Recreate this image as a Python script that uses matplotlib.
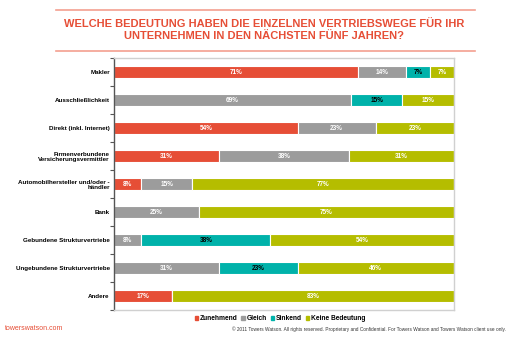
import numpy as np
import matplotlib.pyplot as plt
from matplotlib.lines import Line2D

plt.rcParams['font.family'] = ['Liberation Sans', 'DejaVu Sans']

categories = ['Makler', 'Ausschließlichkeit', 'Direkt (inkl. Internet)',
              'Firmenverbundene\nVersicherungsvermittler',
              'Automobilhersteller und/oder -\nhändler', 'Bank',
              'Gebundene Strukturvertriebe', 'Ungebundene Strukturvertriebe', 'Andere']
series = ['Zunehmend', 'Gleich', 'Sinkend', 'Keine Bedeutung']

zunehmend = [71, 0, 54, 31, 8, 0, 0, 0, 17]
gleich = [14, 69, 23, 38, 15, 25, 8, 31, 0]
sinkend = [7, 15, 0, 0, 0, 0, 38, 23, 0]
keine = [7, 15, 23, 31, 77, 75, 54, 46, 83]

colors = ['#e64e36', '#9c9c9c', '#00b2aa', '#b5bd00']
text_colors = ['white', 'white', 'black', 'white']
red = '#e64e36'


def main():
    data = np.array([zunehmend, gleich, sinkend, keine], dtype=float)
    # 100% stacked: scale each row to fill the axis
    scaled = data / data.sum(axis=0) * 100
    y = np.arange(len(categories))

    fig = plt.figure(figsize=(5.12, 3.5), dpi=100)
    ax = fig.add_axes([114 / 512, 1 - 310 / 350, 340 / 512, 252 / 350])

    left = np.zeros(len(categories))
    for i, name in enumerate(series):
        bars = ax.barh(y, scaled[i], 0.4, left=left, color=colors[i],
                       edgecolor='white', linewidth=0.8, label=name)
        for rect, v in zip(bars, data[i]):
            if v > 0:
                ax.text(rect.get_x() + rect.get_width() / 2, rect.get_y() + rect.get_height() / 2,
                        f'{int(v)}%', ha='center', va='center', fontsize=4.7,
                        fontweight='bold', color=text_colors[i])
        left += scaled[i]

    ax.set_xlim(0, 100)
    ax.set_ylim(len(categories) - 0.5, -0.5)
    ax.set_xticks([])
    ax.set_yticks(y)
    ax.set_yticklabels(categories, fontsize=4.5, fontweight='bold')
    ax.tick_params(axis='y', length=0, pad=3)
    # boundary ticks on the left spine
    ax.set_yticks(np.arange(-0.5, len(categories), 1), minor=True)
    ax.tick_params(axis='y', which='minor', length=3, color='#555555', width=0.8)

    ax.spines['left'].set_color('#555555')
    ax.spines['left'].set_linewidth(1)
    for s in ['top', 'right', 'bottom']:
        ax.spines[s].set_color('#d0d0d0')
        ax.spines[s].set_linewidth(1)

    # title with red rules
    fig.add_artist(Line2D([56 / 512, 475 / 512], [1 - 10 / 350] * 2, color='#f4a090', lw=1.2))
    fig.add_artist(Line2D([56 / 512, 475 / 512], [1 - 51 / 350] * 2, color='#f4a090', lw=1.2))
    fig.text(264 / 512, 1 - 30 / 350,
             'WELCHE BEDEUTUNG HABEN DIE EINZELNEN VERTRIEBSWEGE FÜR IHR\nUNTERNEHMEN IN DEN NÄCHSTEN FÜNF JAHREN?',
             ha='center', va='center', fontsize=8, fontweight='bold', color=red, linespacing=1.3)

    handles = [plt.Rectangle((0, 0), 1, 1, color=c) for c in colors]
    fig.legend(handles, series, loc='center', bbox_to_anchor=(280 / 512, 1 - 319 / 350),
               ncol=4, frameon=False, handlelength=0.5, handleheight=0.5,
               handletextpad=0.3, columnspacing=0.55, prop={'weight': 'bold', 'size': 4.8})

    fig.text(5 / 512, 1 - 328 / 350, 'towerswatson.com', ha='left', va='center',
             fontsize=5, color=red)
    fig.text(506 / 512, 1 - 329 / 350,
             '© 2011 Towers Watson. All rights reserved. Proprietary and Confidential. '
             'For Towers Watson and Towers Watson client use only.',
             ha='right', va='center', fontsize=3.4, color='#333333')

    fig.savefig('out.png', dpi=100)
    plt.close(fig)


if __name__ == '__main__':
    main()
